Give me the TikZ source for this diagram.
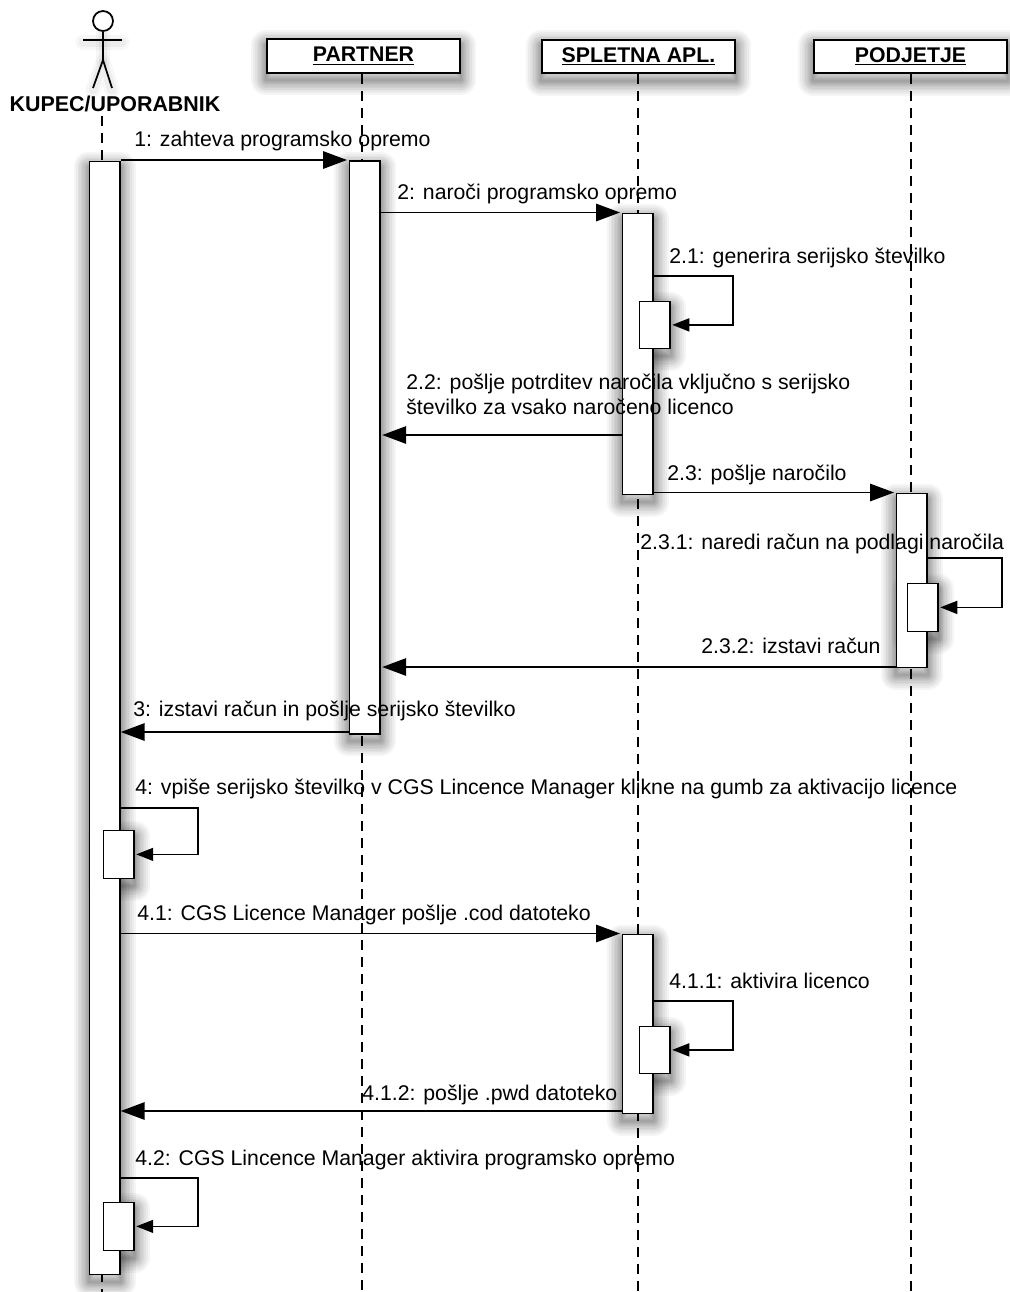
\documentclass[tikz,border=0pt]{standalone}
\usepackage{fontspec}
\setmainfont{Liberation Sans}
\usetikzlibrary{arrows.meta, positioning, backgrounds}

\begin{document}
\begin{tikzpicture}[
    x=0.02cm, y=-0.02cm,
    head/.style={rectangle, draw=black, line width=1pt, fill=white, minimum width=3.86cm, minimum height=0.67cm, font=\fontsize{12.1}{14}\selectfont\bfseries},
    bar/.style={rectangle, draw=black, line width=1pt, fill=white, anchor=north west, inner sep=0pt, minimum width=0.61cm, minimum height=#1*0.02cm},
    softlayer/.style={preaction={draw=black, draw opacity=0.04, line width=#1, line join=round, transform canvas={yshift=-0.13cm}}},
    softshadow/.style={softlayer=0.6cm, softlayer=0.52cm, softlayer=0.44cm, softlayer=0.38cm, softlayer=0.32cm, softlayer=0.26cm, softlayer=0.2cm, softlayer=0.16cm, softlayer=0.12cm, softlayer=0.08cm, softlayer=0.04cm},
    thinshadow/.style={preaction={draw=black, draw opacity=0.03, line width=0.3cm, line join=round, line cap=round, transform canvas={yshift=-0.04cm}}, preaction={draw=black, draw opacity=0.04, line width=0.18cm, line join=round, line cap=round, transform canvas={yshift=-0.04cm}}},
    life/.style={draw=black, line width=0.8pt, dash pattern=on 0.2cm off 0.14cm},
    msg/.style={-{Triangle[length=0.48cm, width=0.35cm]}, line width=0.9pt, shorten >=0.03cm},
    backmsg/.style={msg, shorten >=0pt},
    selfmsg/.style={-{Triangle[length=0.34cm, width=0.26cm]}, line width=0.9pt, shorten >=0.03cm},
    lbl/.style={anchor=base west, inner sep=0pt, font=\fontsize{12.1}{14.2}\selectfont, align=left}
]
\useasboundingbox (0,0) rectangle (1010,1292);

% actor
\node[circle, draw=black, fill=white, line width=1pt, minimum size=0.4cm, inner sep=0pt] (actorHead) at (103,21) {};
\coordinate (actorHip) at (103,60);
\coordinate (armL) at (83,40);
\coordinate (armR) at (122,40);
\coordinate (legL) at (93,88);
\coordinate (legR) at (112,88);
\draw[line width=1pt] (actorHead) -- (actorHip);
\draw[line width=1pt] (armL) -- (armR);
\draw[line width=1pt] (legL) -- (actorHip) -- (legR);
\node[anchor=base, inner sep=0pt, font=\fontsize{12.2}{14}\selectfont\bfseries] (kupec) at (115,111) {KUPEC/UPORABNIK};

% lifelines
\node[head] (partner) at (363.5,56) {\underline{PARTNER}};
\node[head] (spletna) at (638.5,56.5) {\underline{SPLETNA APL.}};
\node[head] (podjetje) at (910.5,56.5) {\underline{PODJETJE}};
\coordinate (kupecTop) at (102,116);
\coordinate (kupecEnd) at (102,1292);
\coordinate (partnerEnd) at (362,1292);
\coordinate (spletnaEnd) at (638,1292);
\coordinate (podjetjeEnd) at (911,1292);
\draw[life] (kupecTop) -- (kupecEnd);
\draw[life] (partner.south -| partnerEnd) -- (partnerEnd);
\draw[life] (spletna.south -| spletnaEnd) -- (spletnaEnd);
\draw[life] (podjetje.south -| podjetjeEnd) -- (podjetjeEnd);

% activations
\node[bar=1113] (k1) at (88.5,160.5) {};
\node[bar=573] (p1) at (348.5,160) {};
\node[bar=281] (s1) at (621.5,212.5) {};
\node[bar=47] (s11) at (638.5,300.5) {};
\node[bar=174] (d1) at (895.5,492.5) {};
\node[bar=48] (d11) at (906.5,582.5) {};
\node[bar=48] (k2) at (102.5,829.5) {};
\node[bar=179] (s2) at (621.5,933.5) {};
\node[bar=47] (s21) at (638.5,1025.5) {};
\node[bar=48] (k3) at (102.5,1201.5) {};

% shadows go behind everything
\begin{scope}[on background layer]
\foreach \n in {partner,spletna,podjetje,k1,p1,s1,s11,d1,d11,k2,s2,s21,k3}
    \path[softshadow] (\n.south west) rectangle (\n.north east);
\path[thinshadow] (actorHead.center) -- (actorHip);
\path[thinshadow] (armL) -- (armR);
\path[thinshadow] (legL) -- (actorHip) -- (legR);
\end{scope}

% messages
\coordinate (m22) at (622,435);
\coordinate (m232) at (896,667);
\coordinate (m3) at (349,732);
\coordinate (m412) at (622,1111);
\coordinate (l21) at (653,276);
\coordinate (l231) at (927,558);
\coordinate (l4) at (119,808);
\coordinate (l411) at (653,1001);
\coordinate (l42) at (119,1178);
\draw[msg] (k1.east |- p1.north) -- (p1.north west);
\draw[msg] (p1.east |- s1.north) -- (s1.north west);
\draw[msg] (m22) -- (p1.east |- m22);
\draw[msg] (s1.east |- d1.north) -- (d1.north west);
\draw[msg] (m232) -- (p1.east |- m232);
\draw[backmsg] (m3) -- (k1.east |- m3);
\draw[msg] (k1.east |- s2.north) -- (s2.north west);
\draw[backmsg] (m412) -- (k1.east |- m412);
\draw[selfmsg] (l21) -- ++(80,0) |- (s11.east);
\draw[selfmsg] (l231) -- ++(75,0) |- (d11.east);
\draw[selfmsg] (l4) -- ++(79,0) |- (k2.east);
\draw[selfmsg] (l411) -- ++(80,0) |- (s21.east);
\draw[selfmsg] (l42) -- ++(79,0) |- (k3.east);

% labels
\node[lbl] (t1) at (134,146) {1: zahteva programsko opremo};
\node[lbl] (t2) at (397,199) {2: naroči programsko opremo};
\node[lbl] (t21) at (669,263) {2.1: generira serijsko številko};
\node[lbl] (t22) at (406,414) {2.2: pošlje potrditev naročila vključno s serijsko\\številko za vsako naročeno licenco};
\node[lbl] (t23) at (667,480) {2.3: pošlje naročilo};
\node[lbl] (t231) at (640,549) {2.3.1: naredi račun na podlagi naročila};
\node[lbl] (t232) at (701,653) {2.3.2: izstavi račun};
\node[lbl] (t3) at (133,716) {3: izstavi račun in pošlje serijsko številko};
\node[lbl] (t4) at (135,794) {4: vpiše serijsko številko v CGS Lincence Manager klikne na gumb za aktivacijo licence};
\node[lbl] (t41) at (137,920) {4.1: CGS Licence Manager pošlje .cod datoteko};
\node[lbl] (t411) at (669,988) {4.1.1: aktivira licenco};
\node[lbl] (t412) at (362,1100) {4.1.2: pošlje .pwd datoteko};
\node[lbl] (t42) at (135,1165) {4.2: CGS Lincence Manager aktivira programsko opremo};
\end{tikzpicture}
\end{document}
